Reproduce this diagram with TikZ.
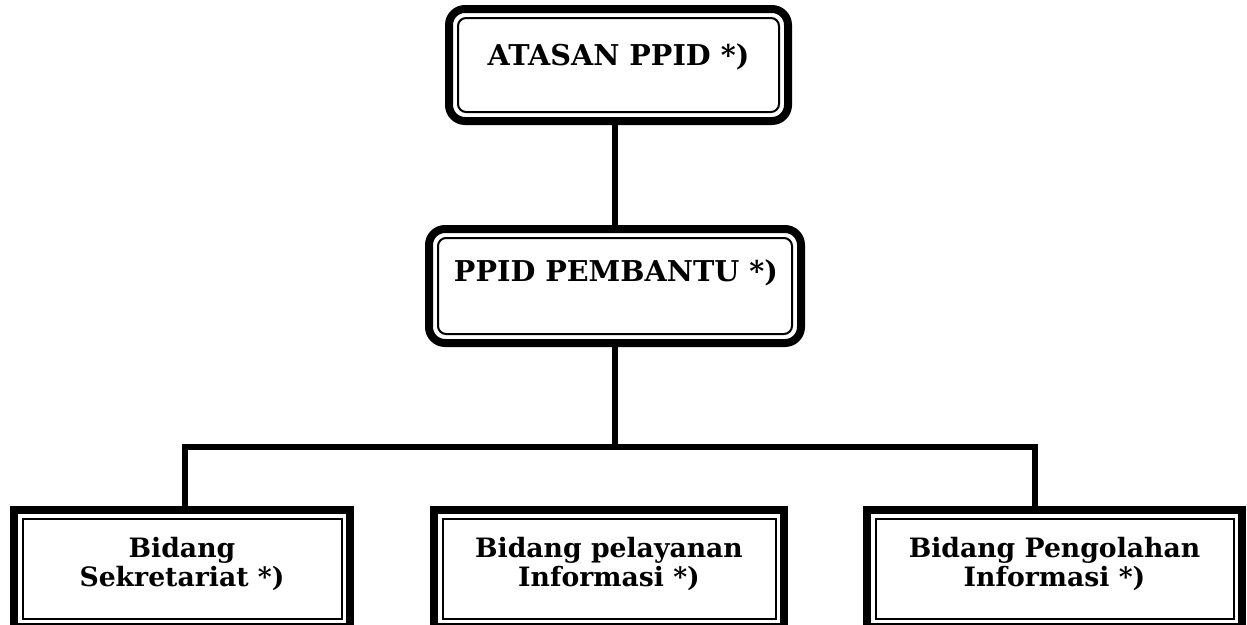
\documentclass[tikz,border=0pt]{standalone}
\usepackage{fontspec}
\setmainfont{DejaVu Serif}
\begin{document}
\begin{tikzpicture}[x=0.75pt,y=-0.75pt]
    \tikzstyle{roundbox} = [draw, line width=6pt, rounded corners=12pt, inner sep=0pt, outer sep=0pt]
    \tikzstyle{squarebox} = [draw, line width=6pt, inner sep=0pt, outer sep=0pt]
    \tikzstyle{thinline} = [line width=1.5pt]
    \tikzstyle{link} = [line width=4.5pt]
    \tikzstyle{bigtext} = [font=\bfseries\fontsize{21.5}{25}\selectfont]
    \tikzstyle{smalltext} = [font=\bfseries\fontsize{20}{22}\selectfont, align=center]
    \useasboundingbox (0,0) rectangle (1247,625);
        % level 1
        \node[roundbox, minimum width=254.25pt, minimum height=84pt] (atasan) at (618.5,65) {};
        \draw[thinline, rounded corners=6pt] ([shift={(9,9)}]atasan.north west) rectangle ([shift={(-9,-9)}]atasan.south east);
        % level 2
        \node[roundbox, minimum width=279pt, minimum height=85.5pt] (pembantu) at (615,286) {};
        \draw[thinline, rounded corners=6pt] ([shift={(9,9)}]pembantu.north west) rectangle ([shift={(-9,-9)}]pembantu.south east);
        \draw[link] (pembantu.north |- atasan.south) -- (pembantu.north);
        % level 3
        \node[squarebox, minimum width=252pt, minimum height=87.75pt] (sekretariat) at (182,568.5) {};
        \draw[thinline] ([shift={(8.5,8.5)}]sekretariat.north west) rectangle ([shift={(-8.5,-8.5)}]sekretariat.south east);
        \node[squarebox, minimum width=262.5pt, minimum height=87.75pt] (pelayanan) at (609,568.5) {};
        \draw[thinline] ([shift={(8.5,8.5)}]pelayanan.north west) rectangle ([shift={(-8.5,-8.5)}]pelayanan.south east);
        \node[squarebox, minimum width=281.25pt, minimum height=87.75pt] (pengolahan) at (1054.5,568.5) {};
        \draw[thinline] ([shift={(8.5,8.5)}]pengolahan.north west) rectangle ([shift={(-8.5,-8.5)}]pengolahan.south east);
        % bus
        \coordinate (busleft) at (184.5,446.5);
        \coordinate (busright) at (1034.5,446.5);
        \draw[link] (pembantu.south) -- (pembantu.south |- busleft);
        \draw[link] (busleft |- sekretariat.north) -- (busleft) -- (busright) -- (busright |- pengolahan.north);
        %%% labels
        \node[bigtext] (atasantxt) at (618.5,57) {ATASAN PPID *)};
        \node[bigtext] (pembantutxt) at (616,273) {PPID PEMBANTU *)};
        \node[smalltext] (sekretariattxt) at (182,564) {Bidang\\Sekretariat *)};
        \node[smalltext] (pelayanantxt) at (609,564) {Bidang pelayanan\\Informasi *)};
        \node[smalltext] (pengolahantxt) at (1054.5,564) {Bidang Pengolahan\\Informasi *)};
    \end{tikzpicture}
\end{document}
